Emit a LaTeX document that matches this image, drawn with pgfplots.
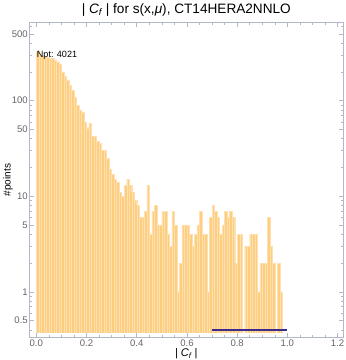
\documentclass[border=0pt]{standalone}
\usepackage{pgfplots}
\pgfplotsset{compat=1.18}
\usepackage{fontspec}
\setmainfont{Liberation Sans}
\definecolor{barc}{rgb}{0.987,0.807,0.495}
\definecolor{bare}{rgb}{0.995,0.88,0.70}
\definecolor{framec}{rgb}{0.70,0.72,0.78}
\definecolor{tlab}{rgb}{0.40,0.40,0.40}
\definecolor{purp}{rgb}{0.24,0.17,0.55}
\pgfplotstableread{
x y
0.005 330
0.015 300
0.025 295
0.035 290
0.045 285
0.055 280
0.065 275
0.075 265
0.085 255
0.095 240
0.105 200
0.115 180
0.125 165
0.135 145
0.145 128
0.155 108
0.165 90
0.175 80
0.185 76
0.195 60
0.205 52
0.215 58
0.225 42
0.235 42
0.245 38
0.255 36
0.265 30
0.275 30
0.285 25
0.295 19
0.305 17
0.315 15
0.325 14
0.335 11
0.345 10
0.355 13
0.365 15
0.375 13
0.385 11
0.395 9
0.405 8
0.415 6
0.425 6
0.435 7
0.445 13
0.455 4
0.465 7
0.475 8
0.485 5
0.495 5
0.505 7
0.515 7
0.525 4
0.535 3
0.545 7
0.555 5
0.565 1
0.575 2
0.585 5
0.595 5
0.605 5
0.615 4
0.625 3
0.635 4
0.645 5
0.655 7
0.665 4
0.675 4
0.685 1
0.695 6
0.705 8
0.715 7
0.725 6
0.735 4
0.745 5
0.755 7
0.765 6
0.775 7
0.785 6
0.795 2
0.805 4
0.815 4
0.835 3
0.845 3
0.855 4
0.865 4
0.875 4
0.885 1
0.895 2
0.905 2
0.915 2
0.925 6
0.935 3
0.945 2
0.965 2
0.975 1
}\histdata
\begin{document}
\begin{tikzpicture}
\begin{axis}[
  scale only axis, width=310bp, height=311bp,
  ymode=log, log origin=infty,
  xmin=-0.027, xmax=1.222, ymin=0.334, ymax=653,
  axis on top,
  axis line style={draw=framec, line width=0.6bp},
  tick align=inside,
  xtick pos=both, ytick pos=both,
  xticklabel pos=lower, yticklabel pos=left,
  major tick length=4bp, minor tick length=2.2bp,
  every tick/.style={draw=framec, line width=0.5bp},
  xtick={0,0.2,0.4,0.6,0.8,1.0,1.2},
  xticklabels={0.0,0.2,0.4,0.6,0.8,1.0,1.2},
  minor xtick={0.05,0.1,0.15,0.25,0.3,0.35,0.45,0.5,0.55,0.65,0.7,0.75,0.85,0.9,0.95,1.05,1.1,1.15},
  ytick={0.5,1,5,10,50,100,500},
  yticklabels={0.5,1,5,10,50,100,500},
  minor ytick={0.4,0.6,0.7,0.8,0.9,2,3,4,6,7,8,9,20,30,40,60,70,80,90,200,300,400,600},
  /pgf/number format/assume math mode=true,
  ticklabel style={font=\fontsize{9.5}{10}\selectfont, text=tlab},
  yticklabel style={inner sep=1.5bp},
  xticklabel style={inner sep=1bp, yshift=-1bp},
  title={\fontsize{13.5}{14}\selectfont | {\itshape C\textsubscript{f}} | for s(x,{\itshape μ}), CT14HERA2NNLO},
  title style={yshift=-3bp},
  xlabel={\fontsize{11}{12}\selectfont | {\itshape C\textsubscript{f}} |},
  xlabel style={inner sep=1bp},
  ylabel={\fontsize{10}{11}\selectfont \#points},
  ylabel style={yshift=-6bp},
]
\addplot[ybar, bar width=0.01, fill=barc, draw=bare, line width=0.3bp] table[x=x,y=y] {\histdata};
\fill[white] (axis cs:-0.01,0.3) rectangle (axis cs:1.01,0.368);
\addplot[color=purp, line width=1.6bp] coordinates {(0.7,0.4) (1.0,0.4)};
\node[anchor=west, inner sep=0, font=\fontsize{9}{9}\selectfont] at (axis cs:0.002,299) {Npt: 4021};
\end{axis}
\end{tikzpicture}
\end{document}
